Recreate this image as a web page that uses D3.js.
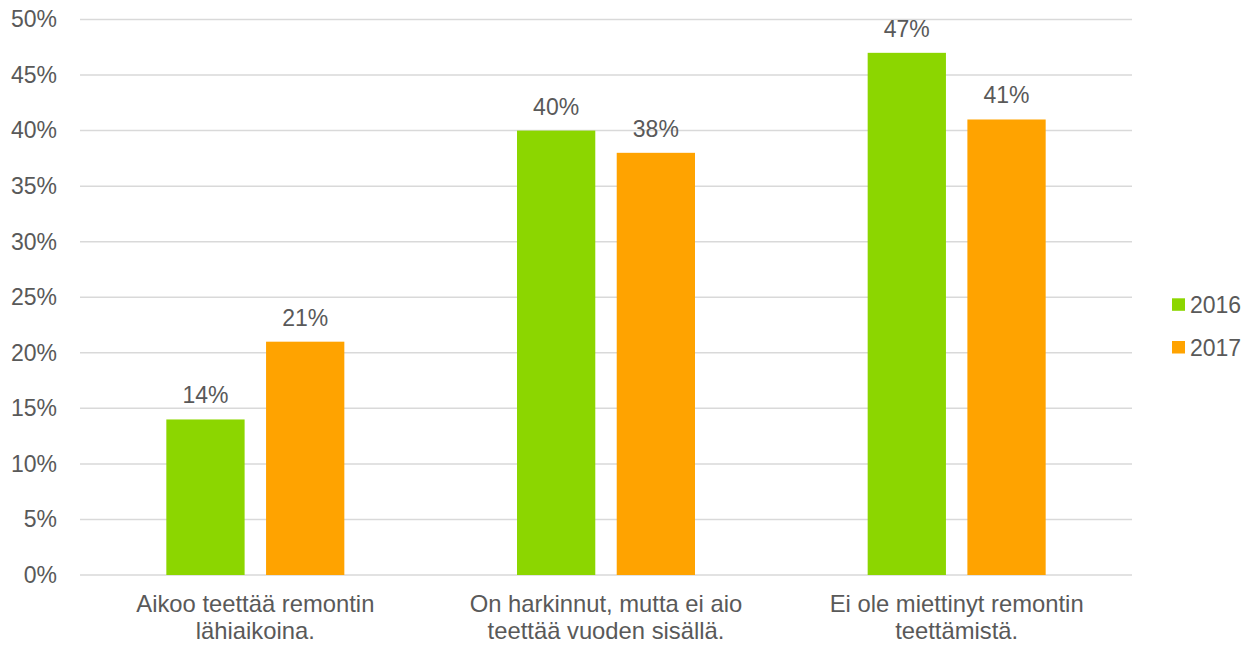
<!DOCTYPE html>
<html>
<head>
<meta charset="utf-8">
<script src="https://cdn.jsdelivr.net/npm/d3@7"></script>
<style>
  html, body { margin: 0; padding: 0; background: #fff; }
  svg { display: block; }
  text { font-family: "Liberation Sans", Arial, sans-serif; fill: #595959; }
</style>
</head>
<body>
<svg id="chart" width="1245" height="645"></svg>
<script>
const categories = [
  ["Aikoo teettää remontin", "lähiaikoina."],
  ["On harkinnut, mutta ei aio", "teettää vuoden sisällä."],
  ["Ei ole miettinyt remontin", "teettämistä."]
];
const seriesNames = ["2016", "2017"];
const values2016 = [14, 40, 47];
const values2017 = [21, 38, 41];
const yTicks = [0, 5, 10, 15, 20, 25, 30, 35, 40, 45, 50];
const colors = ["#8cd600", "#ffa300"];

(function () {
const svg = d3.select("#chart");
const mLeft = 80, mRight = 1132, mTop = 19.5, mBottom = 575;
const fontSize = 23;
const catFontSize = 23.8;

const y = d3.scaleLinear().domain([0, 50]).range([mBottom, mTop]);
const x0 = d3.scaleBand().domain(d3.range(categories.length)).range([mLeft, mRight]).padding(0);
const groupW = 178;
const offset = (x0.bandwidth() - groupW) / 2;
const x1 = d3.scaleBand().domain(seriesNames).range([offset, offset + groupW]).paddingInner(0.215).paddingOuter(0);

// gridlines
svg.append("g").selectAll("line").data(yTicks).join("line")
  .attr("x1", mLeft).attr("x2", mRight)
  .attr("y1", d => y(d)).attr("y2", d => y(d))
  .attr("stroke", "#d9d9d9").attr("stroke-width", 1.5);

// y axis labels
const yAxis = d3.axisLeft(y).tickValues(yTicks).tickFormat(d => d + "%").tickSize(0).tickPadding(0);
const yg = svg.append("g").attr("transform", `translate(57,0)`).call(yAxis);
yg.select(".domain").remove();
yg.selectAll("text").attr("font-size", fontSize).attr("fill", "#595959")
  .attr("font-family", '"Liberation Sans", Arial, sans-serif');

const data = categories.map((c, i) => ({ i, vals: [values2016[i], values2017[i]] }));

const groups = svg.append("g").selectAll("g").data(data).join("g")
  .attr("transform", d => `translate(${x0(d.i)},0)`);

groups.selectAll("rect").data(d => d.vals.map((v, k) => ({ v, k }))).join("rect")
  .attr("x", d => x1(seriesNames[d.k]))
  .attr("width", x1.bandwidth())
  .attr("y", d => y(d.v))
  .attr("height", d => y(0) - y(d.v))
  .attr("fill", d => colors[d.k]);

groups.selectAll("text.val").data(d => d.vals.map((v, k) => ({ v, k }))).join("text")
  .attr("class", "val")
  .attr("x", d => x1(seriesNames[d.k]) + x1.bandwidth() / 2)
  .attr("y", d => y(d.v) - 16)
  .attr("text-anchor", "middle")
  .attr("font-size", fontSize)
  .text(d => d.v + "%");

// category labels
const xg = svg.append("g");
categories.forEach((lines, i) => {
  const cx = x0(i) + x0.bandwidth() / 2;
  const t = xg.append("text")
    .attr("x", cx)
    .attr("y", 612)
    .attr("text-anchor", "middle")
    .attr("font-size", catFontSize);
  lines.forEach((l, j) => {
    t.append("tspan").attr("x", cx).attr("dy", j === 0 ? 0 : 26.7).text(l);
  });
});

// legend
const legend = svg.append("g").selectAll("g").data(seriesNames).join("g")
  .attr("transform", (d, i) => `translate(1172,${298.3 + i * 42.7})`);
legend.append("rect").attr("width", 13).attr("height", 12.5).attr("fill", (d, i) => colors[i]);
legend.append("text").attr("x", 18).attr("y", 15).attr("font-size", fontSize).text(d => d);
})();
</script>
</body>
</html>
